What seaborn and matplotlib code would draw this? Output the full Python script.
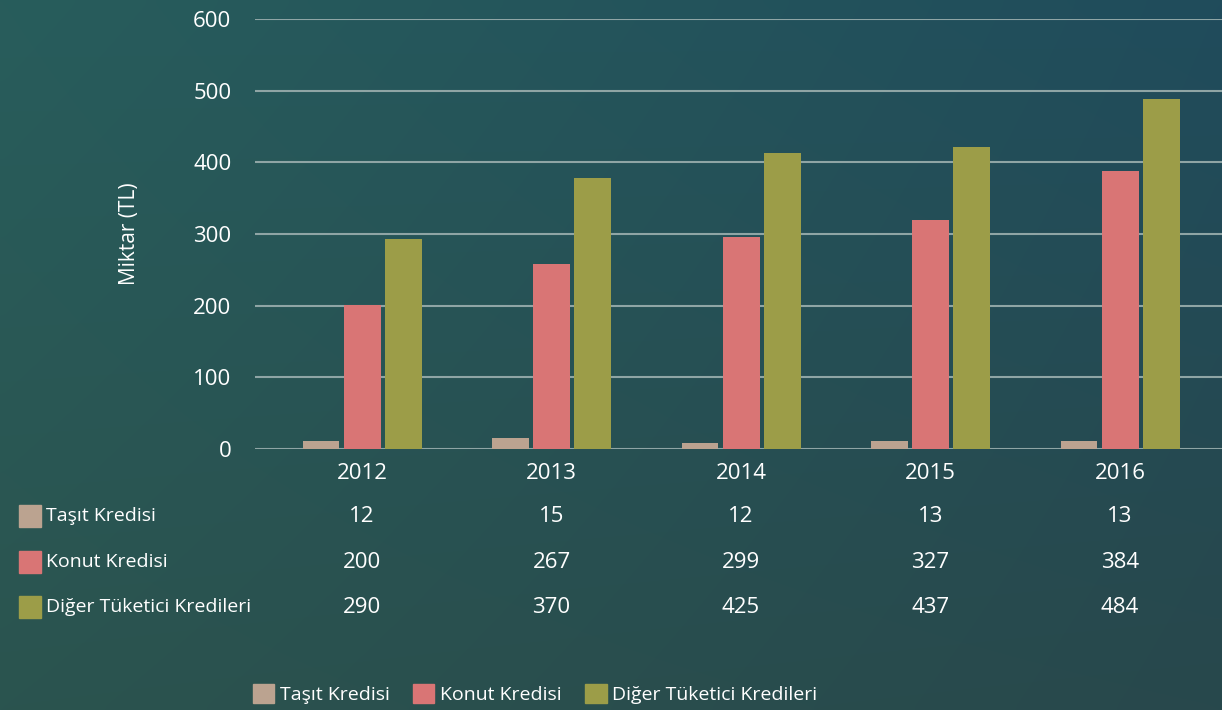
import numpy as np
import pandas as pd
import seaborn as sns
import matplotlib.pyplot as plt
from matplotlib.patches import Rectangle

# veriler (yükseklikler grafikteki çubuklardan, tablo değerleri alttaki tablodan)
years = ["2012", "2013", "2014", "2015", "2016"]
series = ["Taşıt Kredisi", "Konut Kredisi", "Diğer Tüketici Kredileri"]
tasit_bar = [11, 15, 8, 11, 11]
konut_bar = [201, 258, 296, 320, 388]
diger_bar = [293, 378, 413, 421, 488]
tasit_table = [12, 15, 12, 13, 13]
konut_table = [200, 267, 299, 327, 384]
diger_table = [290, 370, 425, 437, 484]
colors = ["#bba390", "#d97575", "#9c9d48"]

df = pd.DataFrame({
    "Yil": years * 3,
    "Seri": [s for s in series for _ in years],
    "Miktar": tasit_bar + konut_bar + diger_bar,
})

sns.set_style("white")
plt.rcParams["font.family"] = ["Open Sans", "DejaVu Sans"]
W, H = 1222, 710
fig = plt.figure(figsize=(W / 100, H / 100), dpi=100)

# arka plan degrade
bg = fig.add_axes([0, 0, 1, 1], zorder=-10)
tl = np.array([40, 93, 92]) / 255
tr = np.array([32, 76, 92]) / 255
bl = np.array([43, 84, 79]) / 255
br = np.array([40, 72, 76]) / 255
yy, xx = np.mgrid[0:1:100j, 0:1:160j]
img = (tl[None, None] * ((1 - xx) * (1 - yy))[..., None] + tr[None, None] * (xx * (1 - yy))[..., None]
       + bl[None, None] * ((1 - xx) * yy)[..., None] + br[None, None] * (xx * yy)[..., None])
bg.imshow(img, aspect="auto", extent=[0, 1, 0, 1], interpolation="bicubic")
bg.axis("off")

ax = fig.add_axes([255 / W, 1 - 449 / H, 1 - 255 / W, 430 / H])
ax.set_facecolor("none")
sns.barplot(data=df, x="Yil", y="Miktar", hue="Seri", hue_order=series,
            palette=colors, width=0.65, gap=0.1, saturation=1, errorbar=None,
            linewidth=0, ax=ax, zorder=3, legend=True)

ax.set_ylim(0, 600)
ax.set_xlim(-0.565, 4.538)
ax.set_yticks(range(0, 601, 100))
ax.yaxis.grid(True, color="#8fa5a5", linewidth=1.5)
ax.set_axisbelow(True)
for s in ax.spines.values():
    s.set_visible(False)
ax.tick_params(axis="both", length=0, colors="white", labelsize=16)
ax.tick_params(axis="y", pad=17)
ax.tick_params(axis="x", pad=10)
ax.set_xlabel("")
ax.set_ylabel("Miktar (TL)", color="white", fontsize=15, labelpad=38)

# tablo
row_y = [516, 562, 607]
for vals, yp, c, name in zip([tasit_table, konut_table, diger_table], row_y, colors, series):
    for i, v in enumerate(vals):
        ax.text(i, (449 - yp) / 430, str(v), transform=ax.get_xaxis_transform(),
                ha="center", va="center", color="white", fontsize=16)
    fig.patches.append(Rectangle((19 / W, 1 - (yp + 11) / H), 22 / W, 22 / H,
                                 transform=fig.transFigure, color=c))
    fig.text(46 / W, 1 - yp / H, name, ha="left", va="center", color="white", fontsize=14)

# alt lejant
ax.legend_.remove()
handles = [Rectangle((0, 0), 1, 1, color=c) for c in colors]
leg = fig.legend(handles, series, loc="center", bbox_to_anchor=(535 / W, 1 - 694 / H),
                 ncol=3, frameon=False, fontsize=14, handlelength=1.1, handleheight=1.1,
                 handletextpad=0.3, columnspacing=1.2, labelcolor="white")

fig.savefig("out.png", dpi=100)
